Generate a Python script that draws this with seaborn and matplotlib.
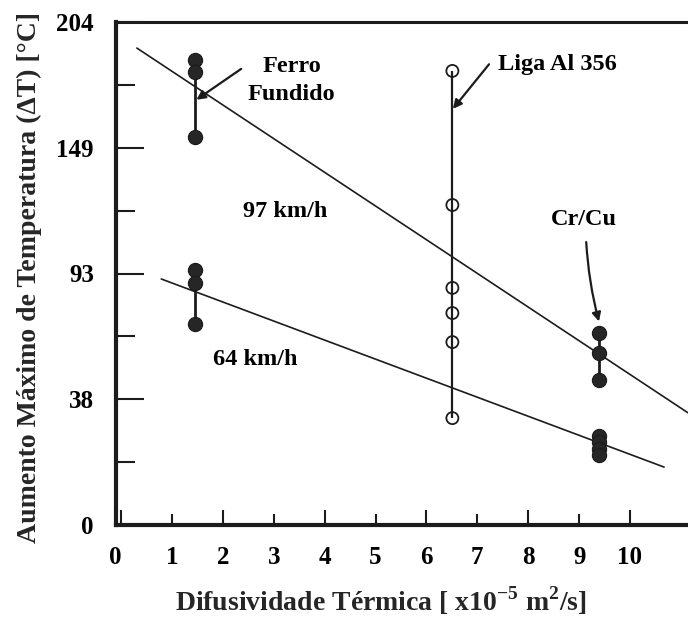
import numpy as np
import pandas as pd
import matplotlib
matplotlib.use("Agg")
import matplotlib.pyplot as plt
import matplotlib.transforms as mtransforms
import seaborn as sns
from matplotlib.ticker import FixedLocator

# ---------------- data ----------------
# thermal diffusivity [x10^-5 m^2/s]
x_ferro = 1.46
x_al = 6.51
x_crcu = 9.39

# max temperature rise (°C)
ferro_97 = [187.4, 182.1, 153.7]
ferro_64 = [94.6, 88.8, 70.9]
al356 = [182.6, 123.5, 86.7, 75.7, 63.0, 32.3]
crcu_97 = [67.0, 58.2, 46.4]
crcu_64 = [26.9, 25.1, 23.0, 21.2]

# fitted trend lines (end points)
fit97_x = [0.31, 11.14]
fit97_y = [192.6, 33.9]
fit64_x = [0.79, 10.67]
fit64_y = [90.6, 17.5]

y_ticks = [0, 38, 93, 149, 204]
y_tick_labels = ["0", "38", "93", "149", "204"]
x_ticks = [0, 1, 2, 3, 4, 5, 6, 7, 8, 9, 10]

# ---------------- style ----------------
sns.set_theme(style="white")
plt.rcParams["font.family"] = ["Liberation Serif", "DejaVu Serif"]
plt.rcParams["font.weight"] = "bold"
plt.rcParams["axes.labelweight"] = "bold"
plt.rcParams["mathtext.fontset"] = "custom"
plt.rcParams["mathtext.rm"] = "Liberation Serif:bold"
plt.rcParams["mathtext.bf"] = "Liberation Serif:bold"

INK = "#1c1c1c"

fig = plt.figure(figsize=(6.88, 6.19), dpi=100)
ax = fig.add_axes([116 / 688, 94 / 619, 1 - 116 / 688, 503 / 619])

# piecewise linear y-scale: labelled ticks are evenly spaced
pos = np.array([0.0, 100.0, 200.0, 300.0, 400.0])
degc = np.array(y_ticks, dtype=float)


def fwd(v):
    return np.interp(v, degc, pos, left=-1e3, right=1e3)


def inv(p):
    return np.interp(p, pos, degc, left=-1e3, right=1e3)


ax.set_yscale("function", functions=(fwd, inv))

# ---------------- build tables ----------------
rows = []
for v in ferro_97:
    rows.append(("Ferro Fundido", "97 km/h", x_ferro, v))
for v in ferro_64:
    rows.append(("Ferro Fundido", "64 km/h", x_ferro, v))
for v in al356:
    rows.append(("Liga Al 356", "all", x_al, v))
for v in crcu_97:
    rows.append(("Cr/Cu", "97 km/h", x_crcu, v))
for v in crcu_64:
    rows.append(("Cr/Cu", "64 km/h", x_crcu, v))
df = pd.DataFrame(rows, columns=["material", "speed", "x", "dT"])

fits = pd.DataFrame({
    "x": fit97_x + fit64_x,
    "dT": fit97_y + fit64_y,
    "speed": ["97"] * 2 + ["64"] * 2,
})

# trend lines
sns.lineplot(data=fits, x="x", y="dT", units="speed", estimator=None,
             color=INK, lw=1.2, ax=ax, legend=False)

# vertical connectors for each group
for (mat, spd), g in df.groupby(["material", "speed"]):
    ax.vlines(g["x"].iloc[0], g["dT"].min(), g["dT"].max(), color=INK,
              lw=2.0 if mat != "Liga Al 356" else 1.6, zorder=2)

filled = df[df["material"] != "Liga Al 356"]
openm = df[df["material"] == "Liga Al 356"]
sns.scatterplot(data=filled, x="x", y="dT", s=105, color="#262626",
                edgecolor="#1a1a1a", linewidth=0.8, ax=ax, zorder=3, legend=False)
sns.scatterplot(data=openm, x="x", y="dT", s=75, facecolor="none",
                edgecolor=INK, linewidth=1.3, ax=ax, zorder=3, legend=False)

# ---------------- annotations ----------------
tkw = dict(fontsize=17.5, fontweight="bold", color="black", ha="center", va="center")
ax.text(3.36, 184.5, "Ferro", **tkw)
ax.text(3.34, 172.2, "Fundido", **tkw)
ax.text(3.22, 120.5, "97 km/h", **tkw)
ax.text(2.63, 55.5, "64 km/h", **tkw)
ax.text(8.57, 185.5, "Liga Al 356", **tkw)
ax.text(9.10, 117.0, "Cr/Cu", **tkw)

akw = dict(arrowstyle="-|>", lw=1.6, color=INK, mutation_scale=13, shrinkA=0, shrinkB=0)
ax.annotate("", xy=(x_ferro + 0.02, 170.0), xytext=(2.36, 183.5), arrowprops=akw)
ax.annotate("", xy=(x_al + 0.01, 166.0), xytext=(7.23, 185.5), arrowprops=akw)
ax.annotate("", xy=(x_crcu, 72.0), xytext=(9.14, 107.0),
            arrowprops=dict(akw, connectionstyle="arc3,rad=0.05"))

# ---------------- axes ----------------
ax.set_xlim(-0.1, 11.14)
ax.set_ylim(0, 204)
ax.yaxis.set_major_locator(FixedLocator(y_ticks))
ax.set_yticklabels(y_tick_labels)
ax.yaxis.set_minor_locator(FixedLocator(inv(np.array([50.0, 150.0, 250.0, 350.0]))))

ax.xaxis.set_major_locator(FixedLocator([t for t in x_ticks if t % 2 == 0]))
ax.xaxis.set_minor_locator(FixedLocator([t for t in x_ticks if t % 2 == 1]))
ax.set_xticklabels([str(t) for t in x_ticks if t % 2 == 0])
ax.set_xticklabels([str(t) for t in x_ticks if t % 2 == 1], minor=True)

ax.tick_params(axis="y", which="major", direction="in", length=20, width=1.5,
               pad=16, labelsize=18, colors=INK, labelcolor="black", left=True)
ax.tick_params(axis="y", which="minor", direction="in", length=14, width=1.5,
               colors=INK, left=True)
ax.tick_params(axis="x", which="major", direction="in", length=11, width=1.5,
               pad=15, labelsize=18, colors=INK, labelcolor="black", bottom=True)
ax.tick_params(axis="x", which="minor", direction="in", length=8, width=1.5,
               pad=15, labelsize=18, colors=INK, labelcolor="black", bottom=True)
for lab in ax.get_xticklabels(which="both") + ax.get_yticklabels():
    lab.set_fontweight("bold")

# the "0" label sits under the spine in the original
t0 = ax.xaxis.get_major_ticks()[0].label1
t0.set_transform(t0.get_transform()
                 + mtransforms.ScaledTranslation(-0.06, 0, fig.dpi_scale_trans))

for side in ["left", "bottom"]:
    ax.spines[side].set_linewidth(3.0)
    ax.spines[side].set_color(INK)
ax.spines["top"].set_linewidth(2.2)
ax.spines["top"].set_color(INK)
ax.spines["right"].set_visible(False)

ax.set_xlabel("Difusividade Térmica [ x10$^{\\mathbf{-5}}$ m$^{\\mathbf{2}}$/s]",
              fontsize=20, fontweight="bold")
ax.xaxis.set_label_coords(0.463, -0.118)
ax.set_ylabel("Aumento Máximo de Temperatura (ΔT) [°C]",
              fontsize=20, fontweight="bold")
ax.yaxis.set_label_coords(-0.130, 0.493)

fig.savefig("out.png", dpi=100, facecolor="white")
